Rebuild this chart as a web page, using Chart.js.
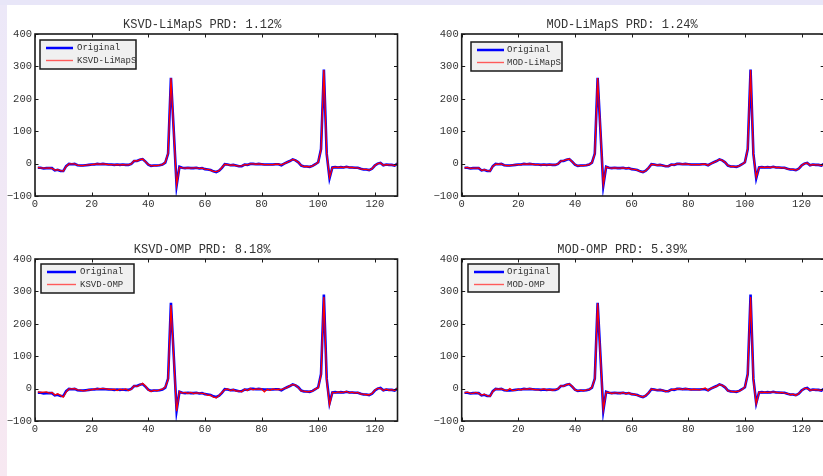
<!DOCTYPE html>
<html>
<head>
<meta charset="utf-8">
<script src="https://cdn.jsdelivr.net/npm/chart.js@4.4.1/dist/chart.umd.min.js"></script>
<style>
  html, body { margin: 0; padding: 0; }
  body { width: 823px; height: 476px; overflow: hidden; position: relative; background: #e8e6f8; }
  #strip { position: absolute; left: 0; top: 5px; width: 7px; height: 471px; background: linear-gradient(#ece8f8, #f7e8f1); }
  #paper { position: absolute; left: 7px; top: 5px; width: 816px; height: 471px; background: #fff; }
  canvas { position: absolute; }
</style>
</head>
<body>
<div id="strip"></div>
<div id="paper"></div>
<canvas id="c1" style="left:7px; top:5px"></canvas>
<canvas id="c2" style="left:420px; top:5px"></canvas>
<canvas id="c3" style="left:7px; top:230px"></canvas>
<canvas id="c4" style="left:420px; top:230px"></canvas>
<script>
// --- data (sample index 1..128) ---
const xTicks = [0, 20, 40, 60, 80, 100, 120];
const yTicks = [-100, 0, 100, 200, 300, 400];

const original = [
  -13,-13,-15,-14,-14,-14,-21,-19,-23,-23,-8,-1,-2,-1,-5,-6,
  -6,-5,-4,-3,-3,-1,-2,-1,-2,-3,-3,-4,-3,-4,-3,-4,
  -4,-1,8,8,12,14,6,-3,-7,-6,-6,-5,-3,3,31,265,
  100,-68,-10,-13,-14,-13,-14,-14,-13,-15,-14,-17,-18,-20,-24,-26,
  -22,-13,-2,-3,-5,-4,-6,-8,-8,-3,-4,-1,-1,-2,-1,-2,
  -3,-3,-3,-3,-2,-2,-5,0,4,8,13,10,4,-6,-9,-9,
  -10,-7,-2,4,45,290,30,-45,-12,-11,-12,-11,-12,-10,-12,-12,
  -13,-13,-16,-18,-18,-20,-16,-6,0,2,-5,-3,-4,-4,-6,0
];
const ksvdLimaps = [
  -12,-13,-14,-14,-13,-15,-20,-19,-22,-23,-9,-1,-1,-1,-5,-6,
  -6,-5,-4,-3,-2,-1,-2,-1,-2,-3,-3,-4,-3,-4,-3,-4,
  -4,-1,9,8,12,14,6,-3,-7,-6,-6,-5,-3,4,32,264,
  98,-66,-11,-13,-14,-13,-14,-13,-13,-15,-14,-17,-18,-20,-24,-25,
  -22,-12,-2,-3,-5,-4,-6,-8,-7,-3,-4,-1,-1,-2,-1,-2,
  -3,-3,-3,-3,-2,-2,-4,0,4,8,13,10,4,-6,-9,-9,
  -10,-7,-2,4,44,289,32,-43,-12,-11,-12,-11,-12,-10,-12,-12,
  -13,-13,-16,-18,-18,-20,-16,-6,0,2,-5,-3,-4,-4,-6,0
];
const modLimaps = [
  -13,-12,-15,-14,-14,-13,-21,-19,-22,-23,-8,-2,-2,-1,-5,-6,
  -6,-5,-4,-3,-3,-1,-2,-1,-2,-3,-3,-4,-3,-4,-3,-4,
  -4,-1,8,9,12,14,6,-3,-7,-6,-6,-5,-3,3,30,264,
  101,-65,-10,-13,-14,-13,-14,-14,-13,-15,-14,-17,-18,-20,-24,-26,
  -22,-13,-2,-3,-5,-4,-6,-8,-8,-3,-4,-1,-1,-2,-1,-2,
  -3,-3,-3,-3,-2,-2,-5,0,4,8,13,10,4,-6,-9,-9,
  -10,-7,-2,4,46,289,28,-42,-12,-11,-12,-11,-12,-10,-12,-12,
  -13,-13,-16,-18,-18,-20,-16,-6,0,2,-5,-3,-4,-4,-6,0
];
const ksvdOmp = [
  -10,-12,-11,-10,-14,-12,-20,-16,-21,-26,-10,-1,-1,0,-4,-5,
  -7,-6,-3,-4,-1,-2,0,0,-1,-2,-3,-2,-6,-2,-4,-1,
  -6,-2,9,6,11,16,8,-4,-9,-5,-7,-4,-2,5,28,258,
  95,-70,-9,-14,-12,-15,-12,-15,-13,-14,-15,-16,-21,-20,-26,-28,
  -21,-12,-3,-1,-6,-3,-8,-7,-10,-2,-6,0,-4,-1,-2,-1,
  -10,-2,-5,-1,-3,-2,-4,1,3,9,12,11,3,-7,-8,-10,
  -9,-8,-1,2,43,283,25,-50,-11,-13,-10,-12,-11,-9,-13,-11,
  -14,-12,-17,-17,-19,-19,-15,-5,1,1,-6,-2,-5,-3,-6,2
];
const modOmp = [
  -13,-11,-14,-15,-12,-15,-20,-17,-22,-24,-9,-1,-2,-1,-4,-7,
  0,-6,-5,-2,-4,-1,-2,0,-2,-3,-4,-3,-1,-4,-3,-5,
  -3,-1,9,7,12,14,7,-4,-7,-5,-7,-4,-3,4,30,263,
  97,-65,-11,-12,-15,-13,-13,-15,-12,-16,-13,-18,-17,-21,-23,-26,
  -21,-13,-1,-4,-4,-5,-5,-9,-7,-4,-2,-2,0,-3,0,-2,
  -4,-2,-3,-4,-1,2,-6,1,4,7,13,10,5,-7,-8,-10,
  -9,-8,-3,5,44,283,27,-47,-11,-12,-11,-12,-11,-11,-11,-13,
  -12,-14,-15,-19,-17,-21,-15,-7,1,1,-5,-4,-3,-5,-5,-1
];

const panels = [
  { id: "c1", name: "KSVD-LiMapS", prd: "1.12", rec: ksvdLimaps },
  { id: "c2", name: "MOD-LiMapS",  prd: "1.24", rec: modLimaps },
  { id: "c3", name: "KSVD-OMP",    prd: "8.18", rec: ksvdOmp },
  { id: "c4", name: "MOD-OMP",     prd: "5.39", rec: modOmp }
];

// canvas sizes / plot placement per panel (page coords handled by css)
const boxes = {
  c1: { w: 419, h: 210, yw: 28,   xh: 19, pr: 28.5, legend: { dx: 5, dy: 6, w: 96, h: 29, line: 27, text: 37 } },
  c2: { w: 446, h: 210, yw: 41.7, xh: 19, pr: 41.8, legend: { dx: 9.3, dy: 8, w: 91, h: 29, line: 27, text: 36 } },
  c3: { w: 419, h: 210, yw: 28,   xh: 19, pr: 28.5, legend: { dx: 6, dy: 5, w: 93, h: 29, line: 29, text: 39 } },
  c4: { w: 446, h: 210, yw: 41.7, xh: 19, pr: 41.8, legend: { dx: 6.3, dy: 5, w: 91, h: 28, line: 30, text: 39 } }
};

const FONT = "'Liberation Mono', 'DejaVu Sans Mono', monospace";

// box, inward ticks and the legend, matlab style
const framePlugin = {
  id: "frame",
  afterDatasetsDraw(chart, args, opts) {
    const { ctx, chartArea: a, scales: { x, y } } = chart;
    ctx.save();
    ctx.strokeStyle = "#1a1a1a";
    ctx.lineWidth = 1;
    ctx.beginPath();
    x.ticks.forEach(t => {
      const px = Math.round(x.getPixelForValue(t.value)) + 0.5;
      ctx.moveTo(px, a.bottom); ctx.lineTo(px, a.bottom - 3.5);
      ctx.moveTo(px, a.top); ctx.lineTo(px, a.top + 3.5);
    });
    y.ticks.forEach(t => {
      const py = Math.round(y.getPixelForValue(t.value)) + 0.5;
      ctx.moveTo(a.left, py); ctx.lineTo(a.left + 3.5, py);
      ctx.moveTo(a.right, py); ctx.lineTo(a.right - 3.5, py);
    });
    ctx.stroke();
    ctx.lineWidth = 1.6;
    ctx.strokeRect(a.left, a.top, a.right - a.left, a.bottom - a.top);

    // legend
    const L = opts.legend;
    const bx = a.left + L.dx, by = a.top + L.dy;
    ctx.fillStyle = "#f0f0f0";
    ctx.fillRect(bx, by, L.w, L.h);
    ctx.lineWidth = 1.5;
    ctx.strokeRect(bx, by, L.w, L.h);
    ctx.font = "9px " + FONT;
    ctx.textBaseline = "middle";
    chart.data.datasets.forEach((ds, i) => {
      const ly = by + 8 + i * 12.5;
      ctx.strokeStyle = i === 0 ? ds.borderColor : "#ff5a5a";
      ctx.lineWidth = i === 0 ? 2.5 : 1.4;
      ctx.beginPath();
      ctx.moveTo(bx + 6, ly); ctx.lineTo(bx + 6 + L.line, ly);
      ctx.stroke();
      ctx.fillStyle = "#333";
      ctx.fillText(ds.label, bx + L.text, ly);
    });
    ctx.restore();
  }
};

panels.forEach(p => {
  const b = boxes[p.id];
  const canvas = document.getElementById(p.id);
  canvas.width = b.w;
  canvas.height = b.h;

  new Chart(canvas, {
    type: "line",
    data: {
      datasets: [
        {
          label: "Original",
          data: original.map((v, i) => ({ x: i + 1, y: v })),
          borderColor: "#0000ff",
          borderWidth: 2.6,
          pointRadius: 0,
          tension: 0,
          order: 2
        },
        {
          label: p.name,
          data: p.rec.map((v, i) => ({ x: i + 1, y: v })),
          borderColor: "#ff0000",
          borderWidth: 1.3,
          pointRadius: 0,
          tension: 0,
          order: 1
        }
      ]
    },
    options: {
      responsive: false,
      animation: false,
      layout: { padding: { left: 0, right: b.pr, top: 0, bottom: 0 } },
      plugins: {
        legend: { display: false },
        tooltip: { enabled: false },
        title: {
          display: true,
          text: `${p.name} PRD: ${p.prd}%`,
          color: "#333",
          font: { family: FONT, size: 12, weight: "normal" },
          padding: { top: 13, bottom: 1.6 }
        },
        frame: { legend: b.legend }
      },
      scales: {
        x: {
          type: "linear",
          min: 0,
          max: 128,
          afterBuildTicks: s => { s.ticks = xTicks.map(v => ({ value: v })); },
          afterFit: s => { s.height = b.xh; },
          grid: { display: false, drawTicks: false },
          border: { display: false },
          ticks: { color: "#333", padding: 2, maxRotation: 0, font: { family: FONT, size: 10.5 } }
        },
        y: {
          min: -100,
          max: 400,
          afterBuildTicks: s => { s.ticks = yTicks.map(v => ({ value: v })); },
          afterFit: s => { s.width = b.yw; },
          grid: { display: false, drawTicks: false },
          border: { display: false },
          ticks: {
            color: "#333",
            padding: 3,
            font: { family: FONT, size: 10.5 },
            callback: v => (v < 0 ? "\u2212" + Math.abs(v) : String(v))
          }
        }
      }
    },
    plugins: [framePlugin]
  });
});
</script>
</body>
</html>
